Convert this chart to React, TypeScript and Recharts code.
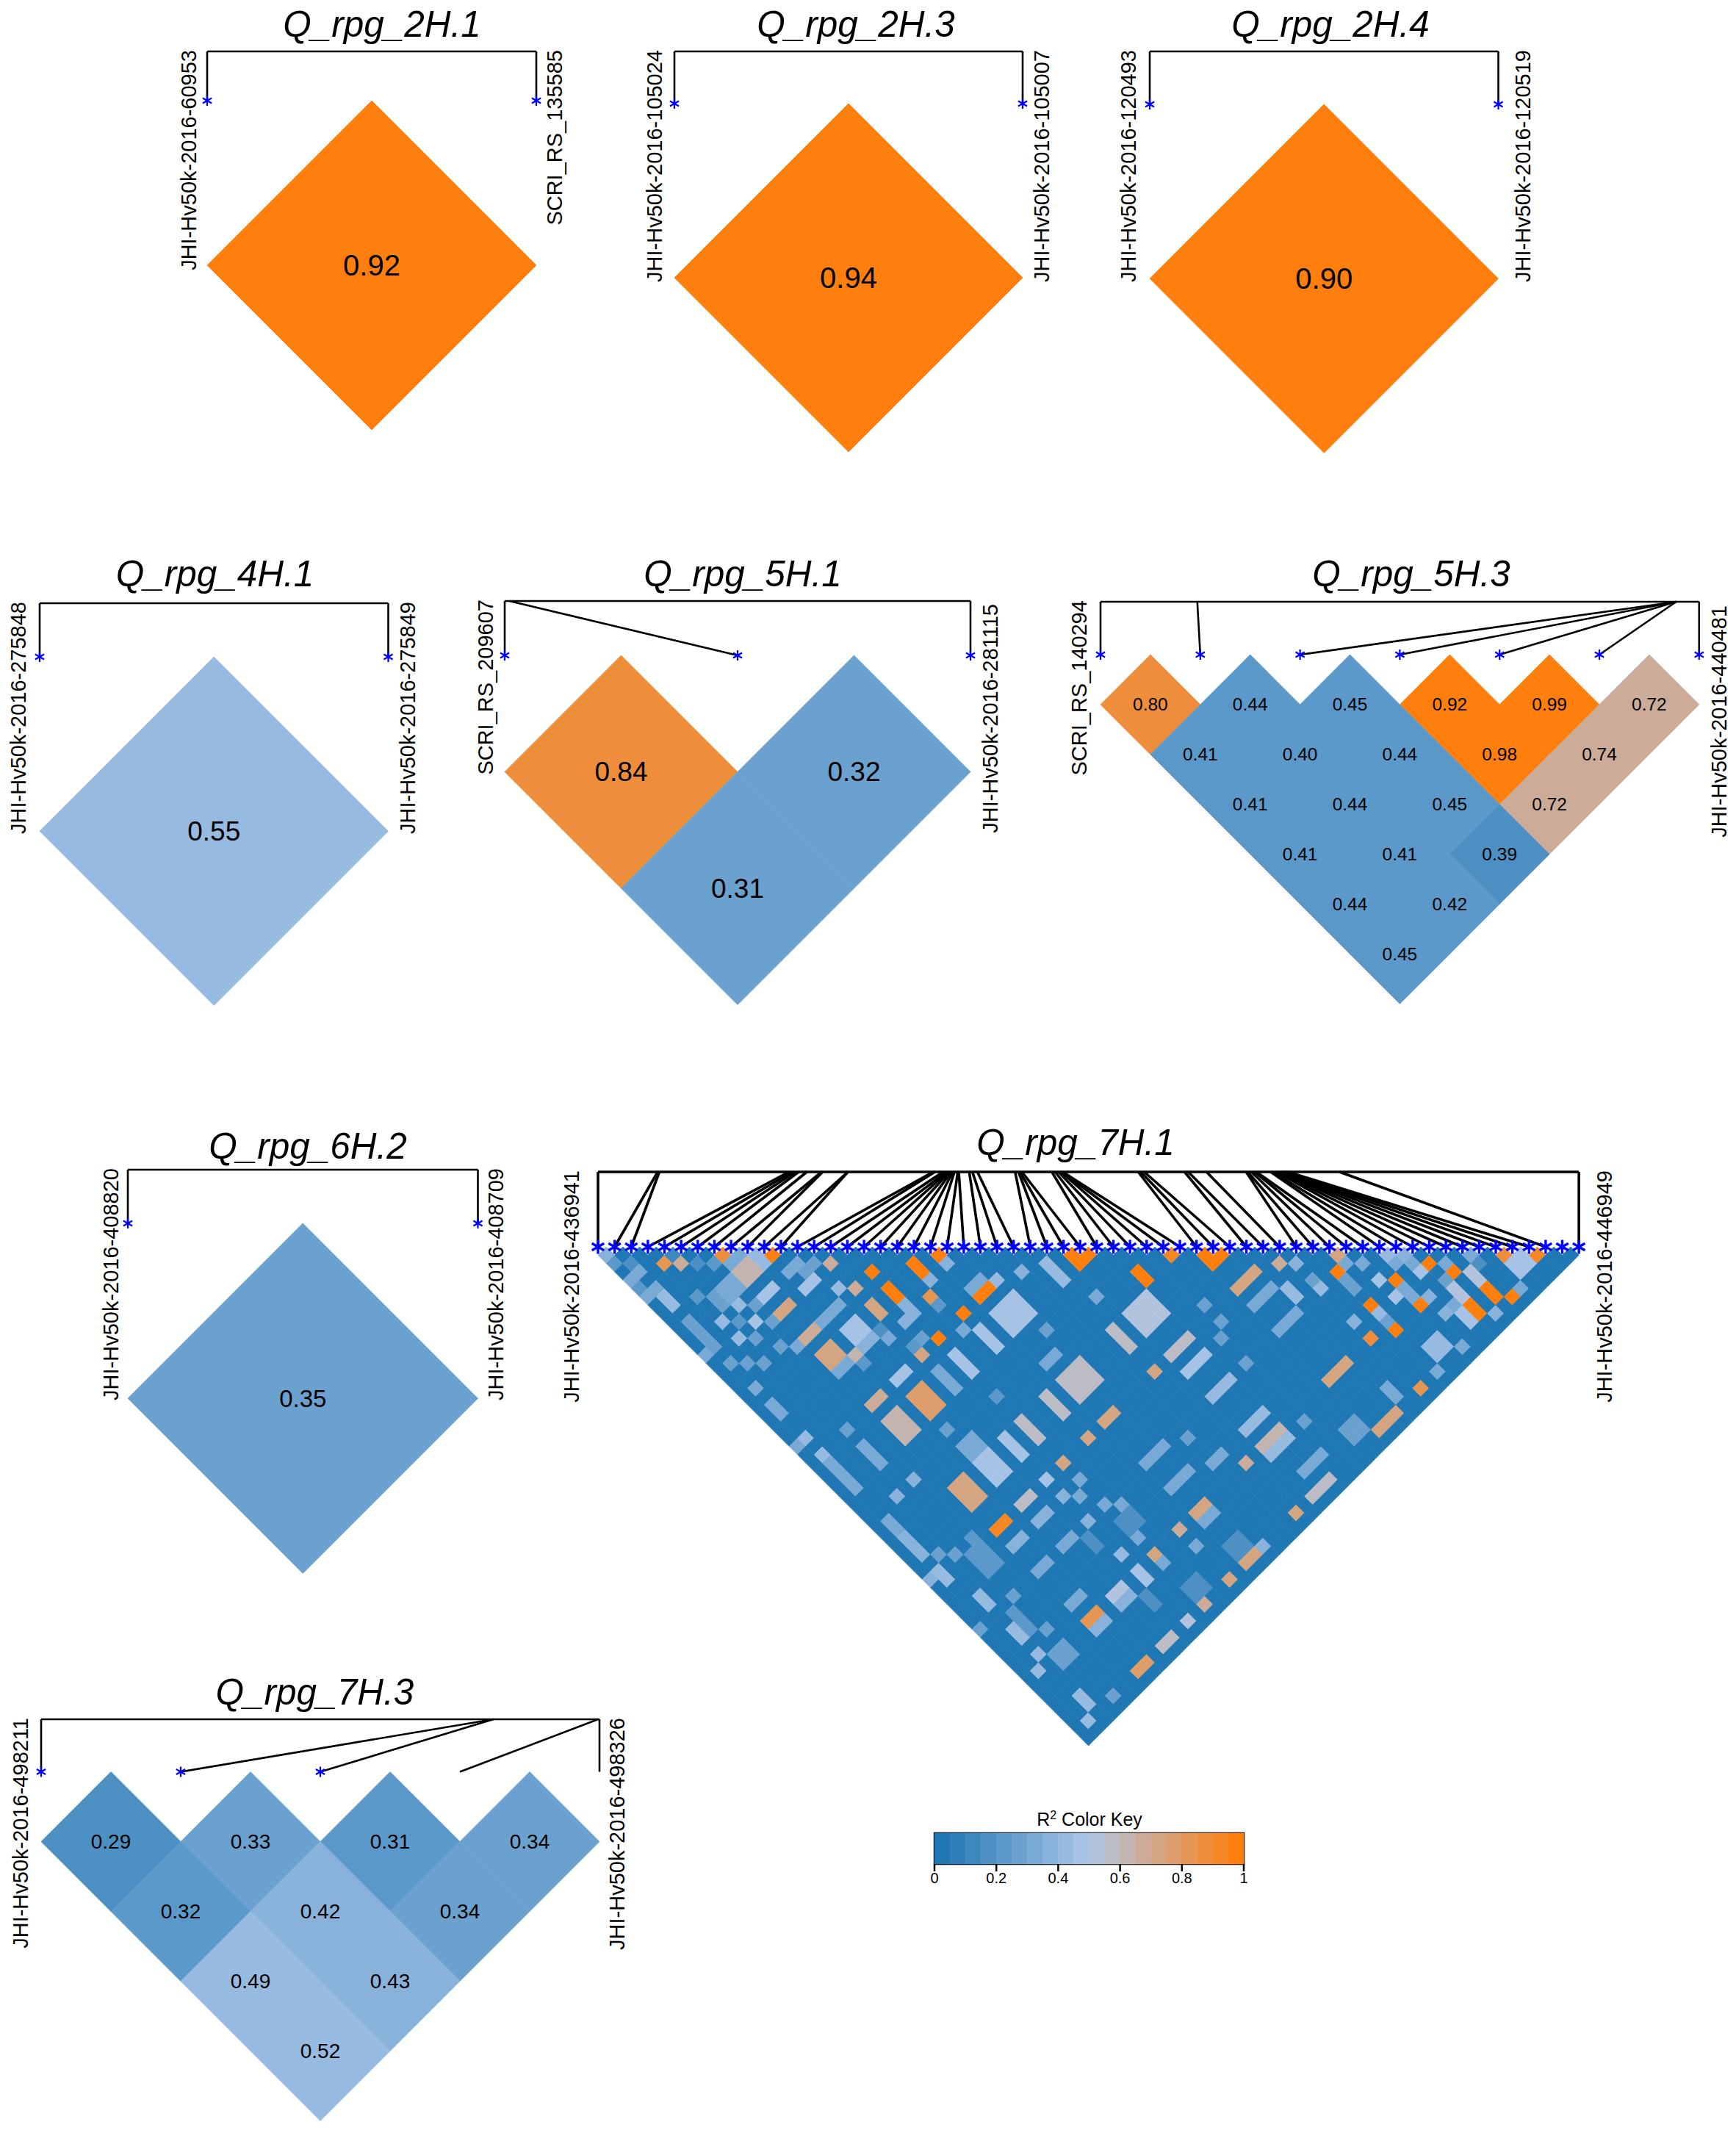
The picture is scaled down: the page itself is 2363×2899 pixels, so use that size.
// App.tsx - LD heatmaps for the Q_rpg QTL regions
import React from "react";
import {
  ScatterChart,
  Scatter,
  XAxis,
  YAxis,
  ReferenceLine,
  ReferenceArea,
  BarChart,
  Bar,
} from "recharts";

const FONT = "'Liberation Sans', Arial, sans-serif";
const KEY_TICKS = [0, 0.2, 0.4, 0.6, 0.8, 1];
const BIN_COUNT = 20;

// key colours: blue -> pale blue -> orange, 20 bins
const hex = (a: number[], b: number[], t: number) =>
  "#" +
  a
    .map((v, c) =>
      Math.round(v + (b[c] - v) * t)
        .toString(16)
        .padStart(2, "0")
    )
    .join("");
const KEY_COLORS = Array.from({ length: BIN_COUNT }, (_, k) => {
  const t = k / (BIN_COUNT - 1);
  return t < 0.5
    ? hex([31, 119, 180], [174, 199, 232], t * 2)
    : hex([174, 199, 232], [255, 127, 14], t * 2 - 1);
});
const binColor = (r2: number) =>
  KEY_COLORS[Math.min(BIN_COUNT - 1, Math.floor(r2 * BIN_COUNT))];

const LABELS_5H1 = [["0.84", "0.32"], ["0.31"]];
const R2_5H1 = [[0.87, 0.27], [0.27]];
const LABELS_5H3 = [
  ["0.80", "0.44", "0.45", "0.92", "0.99", "0.72"],
  ["0.41", "0.40", "0.44", "0.98", "0.74"],
  ["0.41", "0.44", "0.45", "0.72"],
  ["0.41", "0.41", "0.39"],
  ["0.44", "0.42"],
  ["0.45"],
];
const R2_5H3 = [
  [0.87, 0.22, 0.22, 0.98, 0.98, 0.67],
  [0.22, 0.22, 0.22, 0.98, 0.67],
  [0.22, 0.22, 0.22, 0.67],
  [0.22, 0.22, 0.17],
  [0.22, 0.22],
  [0.22],
];
const LABELS_7H3 = [
  ["0.29", "0.33", "0.31", "0.34"],
  ["0.32", "0.42", "0.34"],
  ["0.49", "0.43"],
  ["0.52"],
];
const R2_7H3 = [
  [0.17, 0.27, 0.22, 0.27],
  [0.22, 0.37, 0.27],
  [0.42, 0.37],
  [0.42],
];

// Where each marker's line meets the top bar, in marker units
const MAP_5H1 = [0, 0.02, 2];
const MAP_5H3 = [0, 0.97, 5.77, 5.77, 5.77, 5.77, 6];
const MAP_7H3 = [0, 3.24, 3.24, 3.99, 4];
const MAP_7H1: (number | null)[] = [
  0, 3.59, 3.69, 11.48, 11.68, 11.87, 12.07, 12.56, 13.45, 13.51, 15.03, 15.03,
  20.16, 20.26, 20.75, 20.95, 21.05, 21.14, 21.24, 21.34, 21.44, 21.64, 21.7,
  22.33, 22.52, 22.82, 25.09, 25.29, 25.38, 25.5, 27.3, 27.5, 27.7, 27.85, 27.9,
  27.95, 32.49, 32.64, 32.85, 35.28, 35.5, 36.6, 38.98, 39.08, 39.3, 39.5, 39.6,
  40.46, 40.56, 40.78, 40.88, 40.99, 41.09, 41.2, 41.3, 41.4, 41.5, 44.6, null,
  59,
];

// 7H.1 matrix, most pairs sit in the lowest bin.
// [i from, i to, j from, j to, r2] blocks of marker pairs
const BLOCKS_7H1 = [
  [3, 3, 5, 5, 0.82], [4, 4, 6, 6, 0.67], [7, 7, 8, 8, 0.87], [7, 8, 10, 11, 0.62],
  [10, 10, 11, 11, 0.98], [13, 13, 15, 15, 0.67], [15, 15, 18, 18, 0.98], [18, 18, 20, 21, 0.98],
  [20, 20, 21, 21, 0.98], [15, 15, 20, 21, 0.98], [17, 17, 23, 23, 0.82], [20, 21, 26, 26, 0.98],
  [18, 18, 26, 26, 0.98], [15, 15, 26, 26, 0.98], [13, 13, 18, 18, 0.67], [12, 12, 17, 17, 0.42],
  [13, 13, 20, 21, 0.72], [7, 8, 15, 15, 0.72], [7, 8, 13, 13, 0.47], [10, 11, 15, 15, 0.47],
  [10, 11, 20, 21, 0.47], [7, 8, 18, 18, 0.67], [7, 8, 20, 21, 0.72], [9, 9, 22, 22, 0.62],
  [13, 13, 26, 26, 0.72], [10, 11, 26, 26, 0.47], [10, 11, 28, 30, 0.77], [7, 8, 28, 30, 0.62],
  [7, 8, 26, 26, 0.67], [20, 22, 28, 30, 0.47], [18, 18, 28, 30, 0.47], [15, 15, 28, 30, 0.47],
  [15, 15, 36, 38, 0.57], [13, 13, 36, 38, 0.47], [18, 18, 36, 38, 0.57], [13, 13, 28, 30, 0.32],
  [26, 26, 28, 30, 0.42], [1, 1, 7, 8, 0.42], [0, 1, 4, 4, 0.32], [0, 1, 6, 6, 0.32],
  [0, 0, 1, 1, 0.37], [3, 3, 12, 12, 0.42], [5, 5, 14, 14, 0.47], [3, 3, 14, 14, 0.42],
  [5, 5, 12, 12, 0.42], [4, 4, 10, 11, 0.27], [22, 22, 26, 26, 0.42], [24, 24, 27, 27, 0.37],
  [18, 18, 22, 22, 0.37], [20, 20, 22, 22, 0.37], [14, 14, 23, 23, 0.37], [0, 0, 13, 13, 0.32],
  [1, 1, 15, 15, 0.27], [2, 2, 16, 16, 0.27], [3, 3, 17, 17, 0.27], [1, 1, 18, 18, 0.32],
  [1, 1, 20, 21, 0.32], [4, 4, 28, 30, 0.32], [4, 4, 26, 26, 0.27], [1, 1, 26, 26, 0.42],
  [1, 1, 10, 12, 0.27],
  [28, 29, 30, 30, 0.98], [28, 28, 29, 29, 0.98], [34, 34, 35, 35, 0.92], [36, 37, 38, 38, 0.98],
  [36, 36, 37, 37, 0.98], [31, 31, 34, 35, 0.98], [28, 30, 36, 38, 0.52], [26, 26, 36, 38, 0.57],
  [28, 30, 41, 41, 0.57], [28, 30, 43, 43, 0.47], [26, 26, 41, 41, 0.7], [20, 22, 36, 38, 0.57],
  [36, 38, 41, 41, 0.72], [40, 40, 42, 42, 0.67], [44, 44, 45, 45, 0.72], [43, 43, 46, 46, 0.98],
  [46, 46, 50, 50, 0.98], [45, 45, 49, 49, 0.47], [43, 43, 50, 50, 0.98], [46, 46, 53, 53, 0.98],
  [43, 43, 53, 53, 0.98], [41, 41, 52, 52, 0.87], [49, 49, 51, 51, 0.98], [50, 50, 53, 53, 0.98],
  [51, 51, 56, 57, 0.98], [52, 52, 58, 58, 0.98], [49, 49, 56, 57, 0.98], [54, 54, 55, 55, 0.87],
  [56, 56, 57, 57, 0.92], [54, 55, 56, 57, 0.47], [51, 51, 54, 55, 0.52], [49, 49, 54, 55, 0.52],
  [48, 48, 56, 57, 0.47], [48, 48, 51, 51, 0.47], [45, 45, 51, 51, 0.47], [44, 45, 56, 57, 0.42],
  [41, 41, 58, 58, 0.82], [36, 38, 52, 52, 0.72], [36, 38, 58, 58, 0.72], [28, 30, 46, 46, 0.42],
  [28, 30, 52, 52, 0.62], [28, 30, 53, 53, 0.42], [20, 21, 41, 41, 0.72], [18, 18, 41, 41, 0.72],
  [26, 26, 52, 52, 0.67], [28, 30, 50, 50, 0.42], [43, 43, 58, 58, 0.32], [39, 39, 56, 57, 0.32],
  [34, 35, 56, 57, 0.27], [46, 46, 58, 58, 0.32], [27, 27, 33, 33, 0.32], [39, 39, 44, 45, 0.42],
  [36, 38, 43, 43, 0.32], [41, 41, 46, 46, 0.42], [41, 41, 43, 43, 0.37], [36, 38, 46, 46, 0.32],
  [53, 53, 58, 58, 0.32], [50, 50, 58, 58, 0.37], [41, 41, 50, 50, 0.37], [33, 33, 40, 40, 0.27],
  [32, 32, 43, 43, 0.27], [33, 33, 42, 42, 0.27], [32, 32, 46, 46, 0.27],
  [7, 8, 36, 38, 0.72], [10, 11, 36, 38, 0.47], [7, 8, 41, 41, 0.92], [10, 11, 41, 41, 0.57],
  [13, 13, 41, 41, 0.47], [15, 15, 41, 41, 0.72], [13, 13, 43, 43, 0.37], [13, 13, 46, 46, 0.37],
  [10, 11, 43, 43, 0.37], [7, 8, 43, 43, 0.37], [10, 11, 46, 46, 0.32], [7, 8, 46, 46, 0.32],
  [13, 13, 50, 50, 0.42], [15, 15, 52, 52, 0.72], [13, 13, 52, 53, 0.47], [10, 11, 52, 52, 0.52],
  [10, 11, 53, 53, 0.37], [7, 8, 52, 52, 0.82], [7, 8, 53, 53, 0.37], [7, 8, 50, 50, 0.32],
  [13, 13, 58, 58, 0.52], [10, 11, 58, 58, 0.57], [7, 8, 58, 58, 0.77], [15, 15, 58, 58, 0.67],
  [18, 18, 58, 58, 0.72], [20, 21, 58, 58, 0.72], [26, 26, 58, 58, 0.72], [28, 30, 58, 58, 0.57],
  [20, 21, 52, 52, 0.72], [18, 18, 52, 52, 0.67], [20, 21, 53, 53, 0.32], [2, 2, 56, 57, 0.42],
  [1, 1, 58, 58, 0.42], [2, 2, 51, 51, 0.42], [1, 1, 52, 52, 0.42], [2, 2, 48, 49, 0.42],
  [1, 1, 40, 41, 0.42], [0, 0, 40, 40, 0.37], [2, 2, 44, 45, 0.42], [1, 1, 36, 38, 0.37],
  [1, 1, 34, 35, 0.32], [1, 1, 27, 30, 0.32], [5, 5, 33, 33, 0.37], [3, 3, 33, 33, 0.37],
  [1, 1, 24, 24, 0.42], [20, 22, 46, 46, 0.32], [20, 22, 49, 49, 0.32], [22, 22, 58, 58, 0.37],
  [18, 18, 54, 54, 0.32], [15, 15, 53, 53, 0.32], [15, 15, 50, 50, 0.32], [15, 15, 46, 46, 0.32],
  [16, 16, 47, 47, 0.32], [15, 15, 43, 43, 0.32], [14, 14, 44, 44, 0.32], [4, 4, 46, 46, 0.27],
  [4, 4, 50, 50, 0.27], [3, 4, 52, 53, 0.27], [4, 4, 58, 58, 0.27], [0, 0, 46, 46, 0.27],
  // paler mid-tone stripes
  [0, 0, 2, 2, 0.22], [1, 1, 3, 3, 0.17], [4, 4, 5, 5, 0.12], [5, 5, 7, 7, 0.17],
  [6, 6, 8, 8, 0.22], [7, 7, 9, 9, 0.32], [8, 8, 9, 9, 0.32], [9, 9, 10, 11, 0.42],
  [5, 6, 10, 11, 0.32], [3, 3, 9, 9, 0.22], [6, 6, 13, 13, 0.27], [4, 4, 13, 13, 0.22],
  [6, 6, 15, 15, 0.27], [4, 4, 15, 15, 0.27], [5, 5, 17, 17, 0.27], [6, 6, 18, 18, 0.32],
  [1, 1, 13, 13, 0.27], [0, 0, 5, 5, 0.22], [10, 11, 13, 13, 0.32], [11, 12, 14, 14, 0.27],
  [9, 11, 18, 18, 0.32], [10, 11, 22, 22, 0.37], [7, 8, 22, 22, 0.32], [9, 9, 23, 23, 0.22],
  [12, 12, 23, 23, 0.32], [12, 12, 22, 22, 0.17], [13, 13, 25, 25, 0.22], [14, 14, 25, 25, 0.27],
  [17, 17, 24, 24, 0.22], [15, 15, 22, 23, 0.37], [17, 17, 27, 27, 0.32], [20, 21, 25, 25, 0.32],
  [22, 22, 32, 32, 0.27], [10, 10, 32, 32, 0.27], [10, 11, 34, 35, 0.32], [15, 15, 33, 33, 0.22],
  [0, 0, 24, 24, 0.32], [20, 21, 34, 34, 0.32],
  [50, 50, 52, 52, 0.32], [52, 52, 53, 53, 0.32], [52, 52, 54, 54, 0.17], [48, 48, 49, 49, 0.37],
  [47, 47, 48, 48, 0.42], [47, 47, 49, 49, 0.32], [48, 48, 50, 50, 0.32], [43, 43, 48, 48, 0.27],
  [46, 46, 51, 52, 0.32], [49, 49, 53, 53, 0.27], [47, 47, 53, 53, 0.37], [47, 47, 55, 55, 0.37],
  [48, 48, 55, 55, 0.32], [43, 43, 52, 52, 0.27], [43, 43, 51, 51, 0.42], [41, 41, 45, 45, 0.27],
  [43, 43, 47, 47, 0.27], [45, 45, 47, 47, 0.32], [44, 44, 46, 46, 0.32], [32, 32, 53, 53, 0.27],
  [24, 24, 47, 47, 0.27], [24, 25, 50, 50, 0.32], [29, 31, 56, 56, 0.32],
  [15, 16, 56, 57, 0.17], [20, 21, 56, 57, 0.17], [12, 12, 54, 55, 0.17], [15, 16, 48, 49, 0.17],
  [12, 12, 47, 48, 0.17], [4, 5, 41, 43, 0.22], [5, 5, 40, 42, 0.22], [2, 2, 39, 39, 0.27],
  [3, 3, 40, 40, 0.27], [3, 3, 47, 49, 0.22],
];

// rows[d-1][i] is the pair (i, i+d)
const rowsToCells = (r2: number[][], labels: string[][]) =>
  r2.flatMap((row, d) =>
    row.map((v, i) => ({
      x: i + (d + 1) / 2,
      y: d + 1,
      r2: v,
      label: labels[d][i],
    }))
  );

const matrixCells = (n: number, blocks: number[][], base: number) => {
  const out: any[] = [];
  for (let i = 0; i < n; i++) {
    for (let j = i + 1; j < n; j++) {
      const hit = blocks.find(
        (b) => i >= b[0] && i <= b[1] && j >= b[2] && j <= b[3]
      );
      out.push({ x: (i + j) / 2, y: j - i, r2: hit ? hit[4] : base });
    }
  }
  return out;
};

const PANELS = [
  { title: "Q_rpg_2H.1", titleX: 520, titleY: 50, x0: 282, D: 448, yTop: 137, yBar: 70, n: 2,
    left: "JHI-Hv50k-2016-60953", right: "SCRI_RS_135585", offL: 25, offR: 25, dropR: 0,
    cells: rowsToCells([[0.98]], [["0.92"]]), map: [0, 1], stars: 2, valueSize: 40 },
  { title: "Q_rpg_2H.3", titleX: 1165, titleY: 50, x0: 918, D: 474, yTop: 141, yBar: 70, n: 2,
    left: "JHI-Hv50k-2016-105024", right: "JHI-Hv50k-2016-105007", offL: 27, offR: 26, dropR: 0,
    cells: rowsToCells([[0.98]], [["0.94"]]), map: [0, 1], stars: 2, valueSize: 40 },
  { title: "Q_rpg_2H.4", titleX: 1811, titleY: 50, x0: 1565, D: 474.5, yTop: 142, yBar: 70, n: 2,
    left: "JHI-Hv50k-2016-120493", right: "JHI-Hv50k-2016-120519", offL: 29, offR: 33, dropR: 0,
    cells: rowsToCells([[0.98]], [["0.90"]]), map: [0, 1], stars: 2, valueSize: 40 },
  { title: "Q_rpg_4H.1", titleX: 292, titleY: 798, x0: 53.5, D: 474.5, yTop: 894, yBar: 821, n: 2,
    left: "JHI-Hv50k-2016-275848", right: "JHI-Hv50k-2016-275849", offL: 29, offR: 26, dropR: 0,
    cells: rowsToCells([[0.42]], [["0.55"]]), map: [0, 1], stars: 2, valueSize: 37 },
  { title: "Q_rpg_5H.1", titleX: 1011, titleY: 798, x0: 687, D: 317, yTop: 892, yBar: 818, n: 3,
    left: "SCRI_RS_209607", right: "JHI-Hv50k-2016-281115", offL: 26, offR: 27, dropR: 6,
    cells: rowsToCells(R2_5H1, LABELS_5H1), map: MAP_5H1, stars: 3, valueSize: 37 },
  { title: "Q_rpg_5H.3", titleX: 1921, titleY: 798, x0: 1498, D: 135.8, yTop: 891, yBar: 819, n: 7,
    left: "SCRI_RS_140294", right: "JHI-Hv50k-2016-440481", offL: 29, offR: 27, dropR: 7,
    cells: rowsToCells(R2_5H3, LABELS_5H3), map: MAP_5H3, stars: 7, valueSize: 24.5 },
  { title: "Q_rpg_6H.2", titleX: 419, titleY: 1577, x0: 174, D: 476.5, yTop: 1665, yBar: 1592, n: 2,
    left: "JHI-Hv50k-2016-408820", right: "JHI-Hv50k-2016-408709", offL: 23, offR: 24, dropR: 0,
    cells: rowsToCells([[0.27]], [["0.35"]]), map: [0, 1], stars: 2, valueSize: 33 },
  { title: "Q_rpg_7H.1", titleX: 1464, titleY: 1572, x0: 814, D: 22.63, yTop: 1697, yBar: 1595, n: 60,
    left: "JHI-Hv50k-2016-436941", right: "JHI-Hv50k-2016-446949", offL: 36, offR: 35, dropR: 0,
    cells: matrixCells(60, BLOCKS_7H1, 0.03), map: MAP_7H1, stars: 60, valueSize: 0, dense: true },
  { title: "Q_rpg_7H.3", titleX: 428, titleY: 2319, x0: 55.6, D: 190, yTop: 2411, yBar: 2339.5, n: 5,
    left: "JHI-Hv50k-2016-498211", right: "JHI-Hv50k-2016-498326", offL: 28, offR: 24, dropR: 0,
    cells: rowsToCells(R2_7H3, LABELS_7H3), map: MAP_7H3, stars: 3, valueSize: 28 },
];

function LDPanel({ p }: { p: any }) {
  const margin = { top: 80, right: 70, bottom: 6, left: 70 };
  const plotW = (p.n - 1) * p.D;
  const plotH = p.yTop + (p.n * p.D) / 2 - p.yBar;
  const yBarUnits = (-(p.yTop - p.yBar) * 2) / p.D;
  const lineW = p.dense ? 3.6 : 2.6;
  const starR = p.dense ? 9.5 : 7;
  const starW = p.dense ? 3.4 : 2.2;
  const stars = Array.from({ length: p.stars }, (_, i) => ({ x: i, y: 0 }));

  const diamond = ({ cx, cy, payload }: any) => {
    const h = p.D / 2;
    const fill = binColor(payload.r2);
    return (
      <path
        d={`M${cx - h} ${cy}L${cx} ${cy - h}L${cx + h} ${cy}L${cx} ${cy + h}Z`}
        fill={fill}
        stroke={fill}
        strokeWidth={0.8}
      />
    );
  };
  const valueText = ({ cx, cy, payload }: any) =>
    payload.label ? (
      <text
        x={cx}
        y={cy}
        textAnchor="middle"
        dominantBaseline="central"
        fontFamily={FONT}
        fontSize={p.valueSize}
        fill="#000"
      >
        {payload.label}
      </text>
    ) : (
      <g />
    );
  const star = ({ cx, cy }: any) => {
    const a = starR * 0.87;
    const b = starR * 0.5;
    return (
      <path
        d={`M${cx} ${cy - starR}V${cy + starR}M${cx - a} ${cy - b}L${cx + a} ${cy + b}M${cx - a} ${cy + b}L${cx + a} ${cy - b}`}
        stroke="#0000ff"
        strokeWidth={starW}
        fill="none"
      />
    );
  };

  const ox = p.x0 - margin.left;
  const oy = p.yBar - margin.top;
  const sideLabel = (text: string, x: number, drop: number) => (
    <text
      x={x - ox}
      y={margin.top - 2 + drop}
      transform={`rotate(-90 ${x - ox} ${margin.top - 2 + drop})`}
      textAnchor="end"
      dominantBaseline="central"
      fontFamily={FONT}
      fontSize={29}
      fill="#000"
    >
      {text}
    </text>
  );

  return (
    <div style={{ position: "absolute", left: ox, top: oy }}>
      <ScatterChart
        width={plotW + margin.left + margin.right}
        height={plotH + margin.top + margin.bottom}
        margin={margin}
        style={{ overflow: "visible" }}
      >
        <XAxis hide type="number" dataKey="x" domain={[0, p.n - 1]} />
        <YAxis hide type="number" dataKey="y" reversed domain={[yBarUnits, p.n]} width={0} />
        <Scatter data={p.cells} shape={diamond} isAnimationActive={false} />
        <Scatter data={p.cells} shape={valueText} isAnimationActive={false} />
        <ReferenceLine
          ifOverflow="visible"
          stroke="#000"
          strokeWidth={lineW}
          segment={[
            { x: 0, y: yBarUnits },
            { x: p.n - 1, y: yBarUnits },
          ]}
        />
        {p.map.map((top: number | null, i: number) =>
          top === null ? null : (
            <ReferenceLine
              key={i}
              ifOverflow="visible"
              stroke="#000"
              strokeWidth={lineW}
              segment={[
                { x: top, y: yBarUnits },
                { x: i, y: 0 },
              ]}
            />
          )
        )}
        <Scatter data={stars} shape={star} isAnimationActive={false} />
        <text
          x={p.titleX - ox}
          y={p.titleY - oy}
          textAnchor="middle"
          fontFamily={FONT}
          fontStyle="italic"
          fontSize={49.5}
          fill="#000"
        >
          {p.title}
        </text>
        {sideLabel(p.left, p.x0 - p.offL, 0)}
        {sideLabel(p.right, p.x0 + plotW + p.offR, p.dropR)}
      </ScatterChart>
    </div>
  );
}

// one row, twenty stacked bins
const keyRow: any = { name: "key" };
KEY_COLORS.forEach((_, k) => {
  keyRow["bin" + k] = 1 / BIN_COUNT;
});
const KEY_DATA = [keyRow];

function ColorKey() {
  const margin = { top: 60, right: 30, bottom: 0, left: 30 };
  return (
    <div style={{ position: "absolute", left: 1272 - margin.left, top: 2495 - margin.top }}>
      <BarChart
        width={421 + margin.left + margin.right}
        height={42 + margin.top + 40}
        data={KEY_DATA}
        layout="vertical"
        margin={margin}
        barCategoryGap={0}
      >
        <XAxis
          type="number"
          domain={[0, 1]}
          ticks={KEY_TICKS}
          interval={0}
          axisLine={false}
          tickSize={10}
          tickLine={{ stroke: "#000", strokeWidth: 2.5 }}
          tick={{ fontFamily: FONT, fontSize: 20, fill: "#000" }}
          height={40}
        />
        <YAxis hide type="category" dataKey="name" width={0} />
        {KEY_COLORS.map((c, k) => (
          <Bar key={k} dataKey={"bin" + k} stackId="key" fill={c} stroke={c} strokeWidth={0.6} isAnimationActive={false} />
        ))}
        <ReferenceArea x1={0} x2={1} fill="none" stroke="#000" strokeWidth={2.5} ifOverflow="visible" />
        <text x={margin.left + 211} y={margin.top - 10} textAnchor="middle" fontFamily={FONT} fontSize={25} fill="#000">
          R<tspan dy={-9} fontSize={16}>2</tspan>
          <tspan dy={9}> Color Key</tspan>
        </text>
      </BarChart>
    </div>
  );
}

export default function App() {
  return (
    <div style={{ position: "absolute", left: 0, top: 0, width: 2363, height: 2899, background: "#fff" }}>
      {PANELS.map((p) => (
        <LDPanel key={p.title} p={p} />
      ))}
      <ColorKey />
    </div>
  );
}
